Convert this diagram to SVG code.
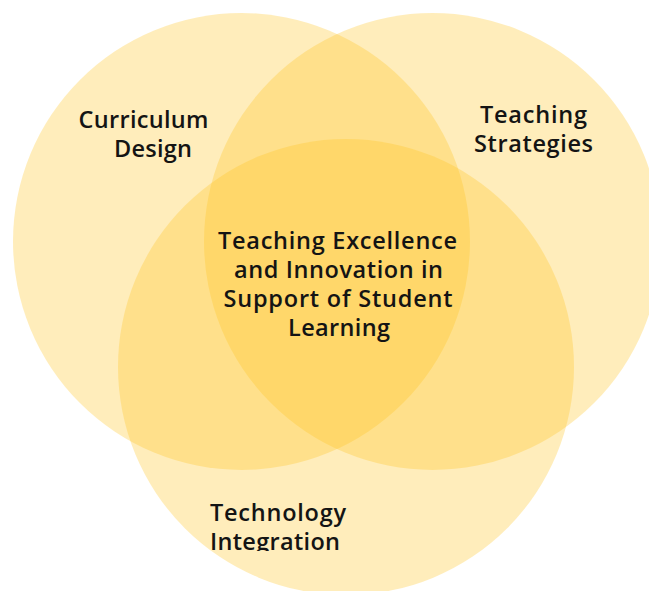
<svg xmlns="http://www.w3.org/2000/svg" width="649" height="591" viewBox="0 0 649 591">
<style>
.c{fill:#FFC31F;fill-opacity:0.3}
.t{font-family:"Open Sans","Noto Sans",sans-serif;font-size:23.5px;font-weight:600;fill:#141414}
</style>
<defs>
<clipPath id="clipB"><rect x="0" y="0" width="649" height="551"/></clipPath>
</defs>
<rect width="649" height="591" fill="#ffffff"/>
<g id="curriculum">
<circle class="c" cx="241.5" cy="241.5" r="228.5"/>
<text class="t"><tspan x="78.5" y="127.5" textLength="130" lengthAdjust="spacing">Curriculum</tspan><tspan x="114" y="156.5" textLength="78" lengthAdjust="spacing">Design</tspan></text>
</g>
<g id="strategies">
<circle class="c" cx="432.5" cy="241.5" r="228.5"/>
<text class="t"><tspan x="480" y="123" textLength="107" lengthAdjust="spacing">Teaching</tspan><tspan x="474" y="152" textLength="119" lengthAdjust="spacing">Strategies</tspan></text>
</g>
<g id="technology">
<circle class="c" cx="346" cy="367" r="228"/>
<text class="t" clip-path="url(#clipB)"><tspan x="210" y="521" textLength="136" lengthAdjust="spacing">Technology</tspan><tspan x="210" y="550" textLength="130" lengthAdjust="spacing">Integration</tspan></text>
</g>
<g id="center">
<text class="t"><tspan x="218" y="249" textLength="239" lengthAdjust="spacing">Teaching Excellence</tspan><tspan x="234" y="278" textLength="209" lengthAdjust="spacing">and Innovation in</tspan><tspan x="223.5" y="307" textLength="229" lengthAdjust="spacing">Support of Student</tspan><tspan x="288" y="336" textLength="102" lengthAdjust="spacing">Learning</tspan></text>
</g>
<g id="connectors"/>
</svg>
